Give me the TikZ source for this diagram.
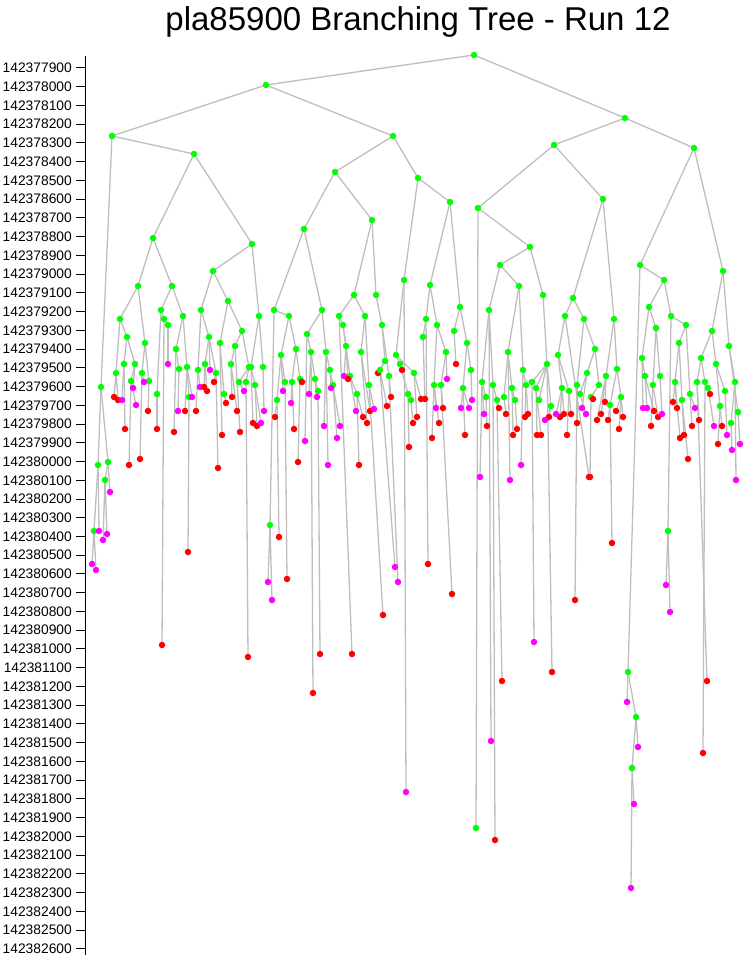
\documentclass[tikz,border=0pt]{standalone}
\usepackage{fontspec}
\setmainfont{Liberation Sans}
\definecolor{G}{RGB}{0,255,0}
\definecolor{M}{RGB}{255,0,255}
\definecolor{R}{RGB}{255,0,0}
\definecolor{edgegray}{RGB}{190,190,190}

% x/y/colour/parent-x/parent-y (picture units, y down)
\def\tree{474/55/G/474/55, 266/85/G/474/55, 625/118/G/474/55,
112/136/G/266/85, 393/136/G/266/85, 194/154/G/112/136, 101/387/G/112/136,
98/465/G/101/387, 108/462/G/101/387, 105/480/G/108/462, 110/492/M/108/462,
94/531/G/98/465, 99/531/M/98/465, 107/534/M/105/480, 103/540/M/105/480,
92/564/M/94/531, 96/570/M/94/531,
153/238/G/194/154, 252/244/G/194/154, 138/286/G/153/238, 172/286/G/153/238,
213/271/G/252/244, 259/316/G/252/244,
120/319/G/138/286, 145/343/G/138/286, 127/337/G/120/319, 116/373/G/120/319,
124/364/G/127/337, 135/364/G/127/337, 114/397/R/116/373, 118/400/R/116/373,
122/400/M/124/364, 125/429/R/124/364, 131/381/G/135/364, 133/388/M/135/364,
129/465/R/131/381, 136/405/M/131/381, 142/373/G/145/343, 149/381/G/145/343,
144/382/M/142/373, 140/459/R/142/373, 148/411/R/149/381,
161/310/G/172/286, 183/316/G/172/286, 164/319/G/161/310, 157/394/G/161/310,
168/325/G/164/319, 162/645/R/164/319, 168/364/M/168/325, 157/429/R/157/394,
176/349/G/183/316, 187/367/G/183/316, 179/369/G/176/349, 174/432/R/176/349,
178/411/M/179/369, 185/411/R/187/367, 189/397/G/187/367, 192/397/M/187/367,
188/552/R/189/397,
201/310/G/213/271, 228/301/G/213/271, 198/370/G/201/310, 209/337/G/201/310,
196/411/R/198/370, 200/387/M/198/370, 205/364/G/209/337, 216/373/G/209/337,
210/370/M/209/337, 204/387/R/205/364, 207/391/R/205/364, 214/382/R/216/373,
218/468/R/216/373, 220/343/G/228/301, 242/331/G/228/301, 224/394/G/220/343,
222/435/R/220/343, 226/403/R/224/394, 235/346/G/242/331, 249/367/G/242/331,
231/364/G/235/346, 240/432/R/235/346, 232/397/R/231/364, 237/411/R/231/364,
239/382/G/249/367, 246/382/G/249/367, 244/391/M/239/382, 248/657/R/246/382,
251/367/G/259/316, 263/367/G/259/316, 255/385/G/251/367, 253/423/R/251/367,
257/426/R/255/385, 261/423/M/255/385, 264/411/M/263/367,
335/172/G/393/136, 418/178/G/393/136, 304/229/G/335/172, 372/220/G/335/172,
274/310/G/304/229, 322/310/G/304/229, 289/316/G/274/310, 270/525/G/274/310,
268/582/M/270/525, 272/600/M/270/525, 281/355/G/289/316, 296/349/G/289/316,
277/400/G/281/355, 283/391/M/281/355, 285/382/G/281/355, 275/417/R/277/400,
279/537/R/277/400, 287/579/R/285/382, 292/382/G/296/349, 300/379/G/296/349,
291/403/M/292/382, 294/429/R/292/382, 302/382/R/300/379, 298/462/R/300/379,
307/334/G/322/310, 326/352/G/322/310, 311/352/G/307/334, 305/441/M/307/334,
309/394/M/311/352, 315/379/G/311/352, 313/693/R/311/352, 318/391/G/315/379,
317/397/M/315/379, 320/654/R/318/391, 330/370/G/326/352, 324/426/M/326/352,
328/465/M/326/352, 333/385/G/330/370, 331/388/M/330/370, 340/426/M/333/385,
337/438/M/333/385,
354/295/G/372/220, 376/295/G/372/220, 339/316/G/354/295, 365/316/G/354/295,
343/325/G/339/316, 352/654/R/339/316, 346/346/G/343/325, 350/376/G/343/325,
344/376/M/346/346, 348/379/R/346/346, 356/411/M/350/376, 357/394/G/350/376,
363/417/R/357/394, 359/465/R/357/394, 361/352/G/365/316, 369/385/G/365/316,
367/423/R/361/352, 370/411/R/361/352, 374/409/M/369/385, 383/615/R/369/385,
382/325/G/376/295, 385/361/G/382/325, 389/376/G/382/325, 378/373/R/385/361,
380/370/G/385/361, 387/406/R/380/370, 395/567/M/380/370, 391/397/R/389/376,
398/582/M/389/376,
404/280/G/418/178, 450/202/G/418/178, 396/355/G/404/280, 406/792/M/404/280,
400/364/G/396/355, 414/373/G/396/355, 402/370/R/400/364, 408/394/G/400/364,
411/400/G/408/394, 409/447/R/408/394, 413/423/R/411/400, 417/417/R/414/373,
421/399/R/414/373,
430/285/G/450/202, 460/307/G/450/202, 426/319/G/430/285, 437/325/G/430/285,
423/337/G/426/319, 428/564/R/426/319, 425/399/R/423/337, 446/352/G/437/325,
434/385/G/437/325, 436/408/M/434/385, 439/423/R/434/385, 432/438/R/434/385,
441/385/G/446/352, 447/379/M/446/352, 443/408/R/441/385, 452/594/R/441/385,
454/331/G/460/307, 456/364/R/454/331, 467/343/G/460/307, 463/388/G/467/343,
465/435/R/463/388, 461/408/M/463/388, 469/408/M/463/388, 471/370/G/467/343,
472/400/M/471/370,
554/145/G/625/118, 694/148/G/625/118, 478/208/G/554/145, 603/199/G/554/145,
476/828/G/478/208, 530/247/G/478/208, 500/265/G/530/247, 543/295/G/530/247,
489/310/G/500/265, 519/286/G/500/265, 482/382/G/489/310, 491/741/M/489/310,
493/385/G/489/310, 486/397/G/482/382, 484/414/M/482/382, 480/477/M/482/382,
487/426/R/486/397, 497/400/G/493/385, 495/840/R/493/385, 499/408/R/497/400,
502/681/R/497/400, 508/352/G/519/286, 523/370/G/519/286, 504/397/G/508/352,
512/388/G/508/352, 510/480/M/508/352, 506/414/R/504/397, 513/435/R/512/388,
515/400/G/512/388, 517/429/R/515/400, 526/385/G/523/370, 521/465/M/523/370,
525/417/R/526/385, 528/414/R/526/385, 547/364/G/543/295, 532/382/G/547/364,
536/388/G/547/364, 539/400/G/547/364, 551/406/G/547/364, 552/672/R/547/364,
534/642/M/532/382, 537/435/R/536/388, 541/435/R/536/388, 549/417/R/551/406,
545/420/M/551/406,
573/298/G/603/199, 614/319/G/603/199, 565/316/G/573/298, 584/319/G/573/298,
558/355/G/565/316, 589/477/R/565/316, 562/388/G/558/355, 569/391/G/558/355,
560/417/R/562/388, 564/414/R/562/388, 556/414/M/562/388, 571/414/R/569/391,
567/435/R/569/391, 577/385/G/584/319, 595/349/G/584/319, 577/423/R/577/385,
575/600/R/577/385, 587/373/G/595/349, 599/385/G/595/349, 580/394/G/587/373,
582/408/M/587/373, 586/414/M/580/394, 591/397/G/599/385, 593/399/R/591/397,
590/477/R/591/397, 606/376/G/614/319, 617/369/G/614/319, 605/402/R/606/376,
601/414/R/606/376, 597/420/R/606/376, 621/397/G/617/369, 610/405/G/617/369,
608/420/R/610/405, 612/543/R/610/405, 616/411/R/621/397, 623/417/R/621/397,
619/429/R/621/397,
640/265/G/694/148, 723/271/G/694/148, 664/280/G/640/265, 628/672/G/640/265,
627/702/M/628/672, 636/717/G/628/672, 638/747/M/636/717, 632/768/G/636/717,
634/804/M/632/768, 631/888/M/632/768, 649/307/G/664/280, 671/316/G/664/280,
642/358/G/649/307, 656/328/G/649/307, 645/376/G/642/358, 643/408/M/642/358,
647/408/M/645/376, 654/411/R/645/376, 653/385/G/656/328, 660/376/G/656/328,
651/426/R/653/385, 658/417/R/653/385, 662/414/M/660/376, 686/325/G/671/316,
679/343/G/686/325, 668/531/G/671/316, 666/585/M/668/531, 670/612/M/668/531,
675/382/G/679/343, 682/400/G/679/343, 673/402/R/675/382, 677/408/R/675/382,
680/438/R/675/382, 684/435/R/682/400, 688/459/R/682/400, 690/394/G/686/325,
692/426/R/690/394, 695/408/M/690/394, 712/331/G/723/271, 729/346/G/723/271,
701/358/G/712/331, 716/364/G/712/331, 697/382/G/701/358, 705/382/G/701/358,
699/420/R/697/382, 707/681/R/697/382, 708/388/G/705/382, 703/753/R/705/382,
710/394/R/708/388, 714/426/M/708/388, 725/391/G/716/364, 720/406/G/716/364,
722/426/R/720/406, 718/444/R/720/406, 727/435/M/725/391, 735/382/G/729/346,
738/412/G/729/346, 736/480/M/735/382, 731/423/G/735/382, 732/450/M/731/423,
740/444/M/738/412}

\begin{document}
\begin{tikzpicture}[x=1pt,y=-1pt,
  edge/.style={draw=edgegray,line width=1.3pt},
  dot/.style={circle,inner sep=0pt,minimum size=6.5pt},
  lab/.style={anchor=east,inner sep=0pt,font=\fontsize{13.8}{14}\selectfont}]
\useasboundingbox (0,0) rectangle (745,957);
\node[anchor=base,font=\fontsize{33}{33}\selectfont] (title) at (418,31) {pla85900 Branching Tree - Run 12};
% value axis
\draw[line width=1pt] (85,56) -- (85,955);
\foreach \k in {0,...,47}{
  \pgfmathtruncatemacro\h{779+\k}
  \node[lab] (t\k) at (72,68+18.74*\k) {1423\h00};
  \draw[line width=1pt] (76,68+18.74*\k) -- (85,68+18.74*\k);
}
% tree
\foreach \x/\y/\col/\px/\py in \tree \coordinate (n\x-\y) at (\x,\y);
\foreach \x/\y/\col/\px/\py in \tree \draw[edge] (n\px-\py) -- (n\x-\y);
\foreach \x/\y/\col/\px/\py in \tree \node[dot,fill=\col] (d\x-\y) at (n\x-\y) {};
\end{tikzpicture}
\end{document}
